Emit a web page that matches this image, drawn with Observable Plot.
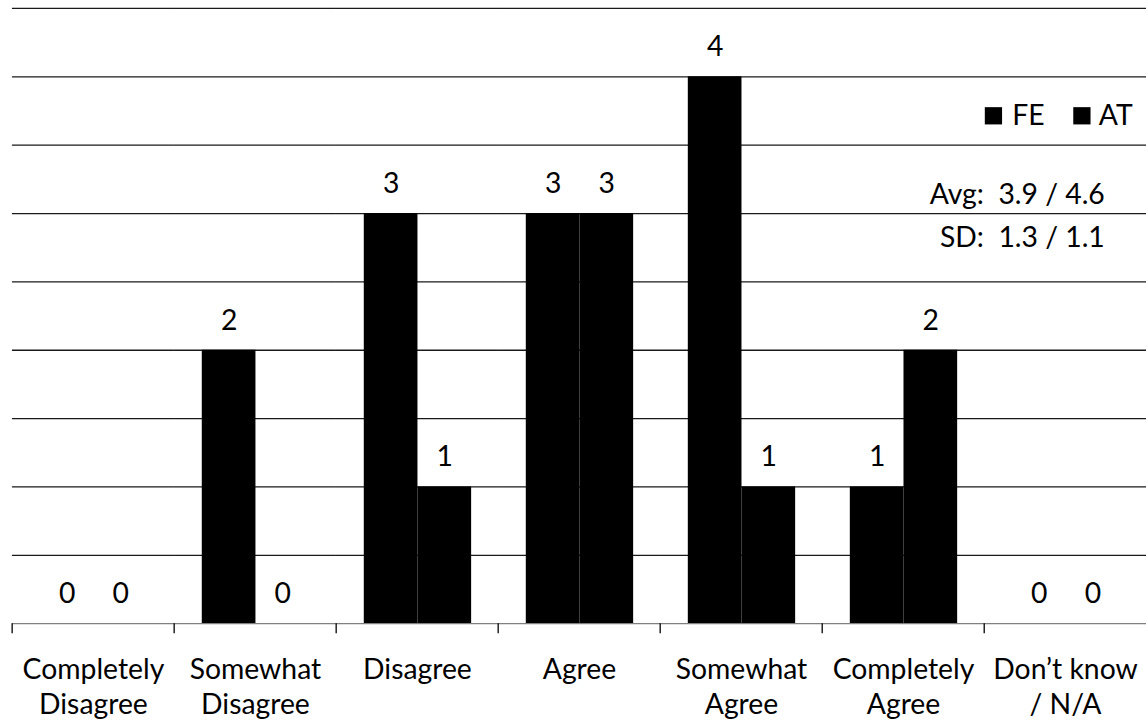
<!DOCTYPE html>
<html>
<head>
<meta charset="utf-8">
<script src="https://cdn.jsdelivr.net/npm/d3@7"></script>
<script src="https://cdn.jsdelivr.net/npm/@observablehq/plot@0.6"></script>
<style>
  html, body { margin: 0; padding: 0; background: #fff; overflow: hidden; }
  #chart svg { display: block; }
</style>
</head>
<body>
<div id="chart"></div>
<script>
// ---- data ----
const categories = [
  "Completely\nDisagree",
  "Somewhat\nDisagree",
  "Disagree",
  "Agree",
  "Somewhat\nAgree",
  "Completely\nAgree",
  "Don’t know\n/ N/A"
];
const series = ["FE", "AT"];
const feValues = [0, 2, 3, 3, 4, 1, 0];
const atValues = [0, 0, 1, 3, 1, 2, 0];
const gridValues = [0.5, 1, 1.5, 2, 2.5, 3, 3.5, 4, 4.5];
const statLines = ["Avg:\u00a0 3.9 / 4.6", "SD:\u00a0 1.3 / 1.1"];

const data = [];
categories.forEach((c, i) => {
  data.push({cat: c, series: "FE", value: feValues[i]});
  data.push({cat: c, series: "AT", value: atValues[i]});
});

// ---- layout ----
const W = 1155, H = 723, ML = 10, MR = 0, MT = 8, MB = 96;
const step = (W - ML - MR) / categories.length;
const lastCat = categories[categories.length - 1];
const FONT = 28.5;
const inLast = () => lastCat;

// legend items (within the last facet, offsets from its top-left corner)
const legendMarks = series.flatMap((s, i) => [
  Plot.dot([s], {fx: inLast, frameAnchor: "top-left", dx: 9 + i * 89, dy: 108,
    symbol: "square", r: 9.8, fill: "#000", stroke: null}),
  Plot.text([s], {fx: inLast, frameAnchor: "top-left", dx: 28 + i * 87, dy: 108,
    textAnchor: "start", lineAnchor: "middle", fontSize: FONT, fill: "#000", text: d => d})
]);
const statMarks = statLines.map((t, i) =>
  Plot.text([t], {fx: inLast, frameAnchor: "top-left", dx: 121, dy: 188 + i * 43,
    textAnchor: "end", lineAnchor: "middle", fontSize: FONT, fill: "#000", text: d => d})
);

const chart = Plot.plot({
  width: W,
  height: H,
  marginLeft: ML,
  marginRight: MR,
  marginTop: MT,
  marginBottom: MB,
  style: {fontFamily: "Lato, 'Liberation Sans', sans-serif", fontSize: FONT + "px", color: "#000", background: "#fff"},
  fx: {domain: categories, padding: 0, axis: null},
  x: {domain: series, paddingInner: 0, paddingOuter: 0.5, axis: null},
  y: {domain: [0, 4.5], axis: null},
  marks: [
    Plot.ruleY(gridValues, {stroke: "#1a1a1a", strokeWidth: 1.3}),
    Plot.barY(data, {fx: "cat", x: "series", y: "value", fill: "#000"}),
    Plot.ruleY([0], {stroke: "#808080", strokeWidth: 1.3}),
    Plot.text(data, {fx: "cat", x: "series", y: "value", text: d => String(d.value), dy: -30, fontSize: FONT, fill: "#000"}),
    // boundary ticks below the baseline
    Plot.axisFx({anchor: "bottom", tickSize: 10, tickFormat: () => "", dx: -step / 2, stroke: "#000", strokeWidth: 1.3, label: null}),
    // category labels
    Plot.axisFx({anchor: "bottom", tickSize: 0, tickPadding: 31, fontSize: FONT, lineHeight: 1.23, label: null, fill: "#000"}),
    ...legendMarks,
    ...statMarks
  ]
});
document.getElementById("chart").appendChild(chart);
</script>
</body>
</html>
